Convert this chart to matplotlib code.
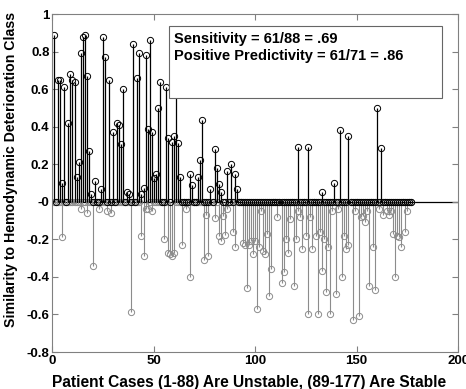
import matplotlib.pyplot as plt
import matplotlib.patches as patches
import numpy as np

plt.rcParams['font.family'] = ['Liberation Sans', 'DejaVu Sans']

# Number of cases: 1-88 unstable, 89-177 stable
n_cases = 177

# Positive similarity values (black stems)
pos_cases = [1, 3, 4, 5, 6, 8, 9, 10, 11, 12, 13, 14, 15, 16, 17, 18, 19, 21, 24, 25,
             26, 28, 30, 32, 33, 34, 35, 37, 38, 40, 42, 43, 44, 45, 46, 47, 48, 49, 50, 51,
             52, 53, 56, 57, 59, 60, 61, 62, 63, 68, 69, 72, 73, 74, 78, 80, 81, 82, 83, 86,
             88, 90, 91, 121, 126, 133, 139, 142, 146, 160, 162]
pos_vals = [0.89, 0.65, 0.65, 0.10, 0.61, 0.42, 0.68, 0.65, 0.64, 0.13, 0.21, 0.79, 0.88, 0.89, 0.67, 0.27, 0.04, 0.11, 0.07, 0.88,
            0.77, 0.65, 0.37, 0.42, 0.41, 0.31, 0.60, 0.05, 0.04, 0.84, 0.66, 0.79, 0.04, 0.075, 0.78, 0.39, 0.86, 0.37, 0.125, 0.15,
            0.50, 0.64, 0.61, 0.34, 0.32, 0.35, 0.62, 0.315, 0.13, 0.15, 0.09, 0.13, 0.22, 0.435, 0.07, 0.28, 0.18, 0.095, 0.05, 0.165,
            0.20, 0.15, 0.07, 0.29, 0.29, 0.05, 0.10, 0.38, 0.35, 0.50, 0.285]

# Negative similarity values (gray stems)
neg_cases = [5, 14, 17, 20, 23, 27, 29, 39, 44, 45, 46, 47, 49, 55, 57, 58, 59, 60,
             64, 66, 68, 75, 76, 77, 80, 82, 83, 84, 85, 86, 89, 90,
             94, 95, 96, 97, 98, 99, 100, 101, 102, 103, 104, 105, 106, 107, 108, 111, 113, 114,
             115, 116, 117, 119, 120, 121, 122, 123, 125, 126, 127, 128, 130, 131, 132, 133, 134, 135,
             136, 137, 138, 140, 141, 143, 144, 145, 146, 148, 149, 151, 152, 153, 154, 155, 156, 158,
             159, 161, 163, 165, 166, 167, 168, 169, 170, 171, 172, 174, 175]
neg_vals = [-0.19, -0.04, -0.06, -0.34, -0.04, -0.05, -0.06, -0.585, -0.18, -0.29, -0.04, -0.04, -0.05, -0.20, -0.27, -0.28, -0.29, -0.27,
            -0.23, -0.04, -0.40, -0.31, -0.07, -0.29, -0.085, -0.18, -0.21, -0.075, -0.175, -0.04, -0.16, -0.24,
            -0.22, -0.23, -0.46, -0.23, -0.21, -0.28, -0.21, -0.57, -0.24, -0.05, -0.26, -0.28, -0.17, -0.50, -0.36, -0.08, -0.43, -0.375,
            -0.20, -0.27, -0.09, -0.45, -0.20, -0.05, -0.08, -0.25, -0.18, -0.60, -0.08, -0.25, -0.18, -0.60, -0.16, -0.37, -0.20, -0.48,
            -0.24, -0.60, -0.05, -0.49, -0.04, -0.40, -0.18, -0.25, -0.23, -0.63, -0.05, -0.61, -0.08, -0.075, -0.11, -0.05, -0.45, -0.24,
            -0.47, -0.04, -0.07, -0.05, -0.07, -0.05, -0.17, -0.40, -0.18, -0.19, -0.24, -0.16, -0.05]

stats_lines = ['Sensitivity = 61/88 = .69', 'Positive Predictivity = 61/71 = .86']

cases = np.arange(1, n_cases + 1)
pos = np.zeros(n_cases)
neg = np.zeros(n_cases)
pos[np.array(pos_cases) - 1] = pos_vals
neg[np.array(neg_cases) - 1] = neg_vals

fig = plt.figure(figsize=(4.66, 3.89), dpi=100)
ax = fig.add_axes([0.112, 0.095, 0.871, 0.869])

gray = '#8c8c8c'
ml, sl, bl = ax.stem(cases, neg, basefmt=' ')
plt.setp(sl, color=gray, linewidth=0.8)
plt.setp(ml, marker='o', markersize=4.5, markerfacecolor='none', markeredgecolor=gray, markeredgewidth=0.7)

ml2, sl2, bl2 = ax.stem(cases, pos, basefmt=' ')
plt.setp(sl2, color='black', linewidth=0.9)
plt.setp(ml2, marker='o', markersize=4.5, markerfacecolor='none', markeredgecolor='black', markeredgewidth=0.7)

ax.axhline(0, color='black', linewidth=0.9, zorder=1)

ax.set_xlim(0, 200)
ax.set_ylim(-0.8, 1)
ax.set_xticks([0, 50, 100, 150, 200])
yt = np.round(np.arange(-0.8, 1.01, 0.2), 1)
ax.set_yticks(yt)
ax.set_yticklabels([f'{v:g}' for v in yt])
ax.tick_params(direction='in', top=True, right=True, labelsize=9.5, length=4, color='#808080', pad=2)
for lab in ax.get_xticklabels() + ax.get_yticklabels():
    lab.set_fontweight('bold')
for s in ax.spines.values():
    s.set_color('#808080')

ax.set_xlabel('Patient Cases (1-88) Are Unstable, (89-177) Are Stable', fontweight='bold', fontsize=11.2, labelpad=0)
ax.xaxis.set_label_coords(0.485, -0.068)
ax.set_ylabel('Similarity to Hemodynamic Deterioration Class', fontweight='bold', fontsize=10.2, labelpad=3)
ax.yaxis.set_label_coords(-0.085, 0.541)

box = patches.Rectangle((0.289, 0.752), 0.671, 0.2125, transform=ax.transAxes,
                        facecolor='white', edgecolor='#666666', linewidth=0.8, zorder=5)
ax.add_patch(box)
ax.text(0.300, 0.915, stats_lines[0], transform=ax.transAxes, fontsize=10.5, fontweight='bold',
        va='baseline', ha='left', zorder=6)
ax.text(0.300, 0.864, stats_lines[1], transform=ax.transAxes, fontsize=10.5, fontweight='bold',
        va='baseline', ha='left', zorder=6)

fig.savefig('out.png', dpi=100)
